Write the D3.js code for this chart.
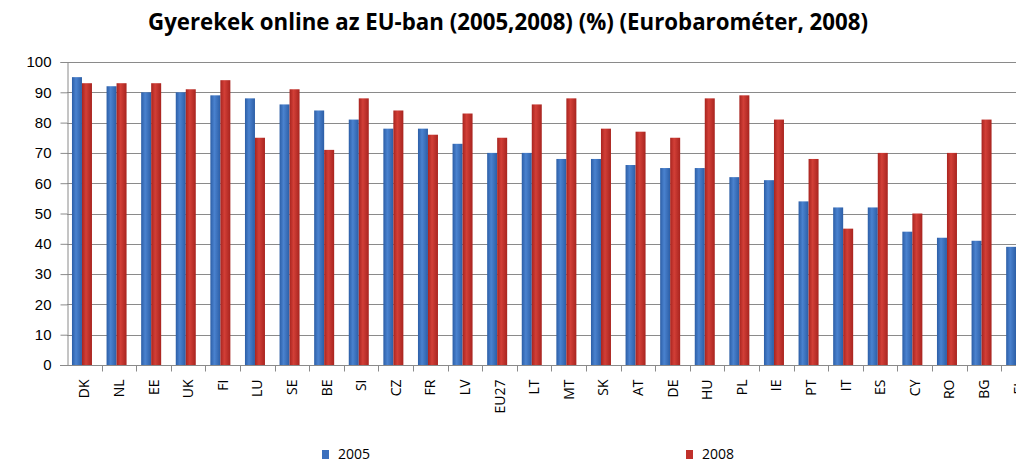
<!DOCTYPE html>
<html>
<head>
<meta charset="utf-8">
<script src="https://cdn.jsdelivr.net/npm/d3@7"></script>
<style>
  body { margin: 0; background: #fff; overflow: hidden; }
  svg { display: block; font-family: "Open Sans", "Noto Sans", sans-serif; }
</style>
</head>
<body>
<div id="chart"></div>
<script>
// CONSTANTS
const WIDTH = 1016;
const HEIGHT = 463;

// DATA
const countries = ["DK", "NL", "EE", "UK", "FI", "LU", "SE", "BE", "SI", "CZ", "FR", "LV", "EU27", "LT",
  "MT", "SK", "AT", "DE", "HU", "PL", "IE", "PT", "IT", "ES", "CY", "RO", "BG", "EL"];
const values2005 = [95, 92, 90, 90, 89, 88, 86, 84, 81, 78, 78, 73, 70, 70,
  68, 68, 66, 65, 65, 62, 61, 54, 52, 52, 44, 42, 41, 39];
const values2008 = [93, 93, 93, 91, 94, 75, 91, 71, 88, 84, 76, 83, 75, 86,
  88, 78, 77, 75, 88, 89, 81, 68, 45, 70, 50, 70, 81, 50];
const seriesNames = ["2005", "2008"];
const yTicks = [0, 10, 20, 30, 40, 50, 60, 70, 80, 90, 100];
const title = "Gyerekek online az EU-ban (2005,2008) (%) (Eurobarométer, 2008)";

const rows = countries.map((c, i) => ({ country: c, values: [values2005[i], values2008[i]] }));

const margin = { left: 67, top: 62, bottom: 98 };
const step = 34.6;

const svg = d3.select("#chart")
  .append("svg")
  .attr("width", WIDTH)
  .attr("height", HEIGHT);

// gradients for the bars
const defs = svg.append("defs");
const makeGrad = (id, edge, mid) => {
  const g = defs.append("linearGradient").attr("id", id)
    .attr("x1", "0%").attr("x2", "100%").attr("y1", "0%").attr("y2", "0%");
  g.append("stop").attr("offset", "0%").attr("stop-color", edge);
  g.append("stop").attr("offset", "40%").attr("stop-color", mid);
  g.append("stop").attr("offset", "100%").attr("stop-color", edge);
};
makeGrad("g2005", "#2c5ea6", "#4a82cf");
makeGrad("g2008", "#a8241f", "#d23f37");
const fills = ["url(#g2005)", "url(#g2008)"];
const legendFills = ["#3b6fbd", "#c0302b"];

const x0 = d3.scaleBand()
  .domain(countries)
  .range([margin.left, margin.left + step * countries.length])
  .padding(0);

const x1 = d3.scaleBand()
  .domain(seriesNames)
  .range([0, x0.bandwidth()])
  .paddingInner(0)
  .paddingOuter(0.73)
  .align(0.34);

const y = d3.scaleLinear()
  .domain([0, 100])
  .range([HEIGHT - margin.bottom, margin.top]);

// TITLE
const titleText = svg.append("text")
  .attr("x", 508)
  .attr("y", 30)
  .attr("text-anchor", "middle")
  .attr("font-weight", "bold")
  .attr("font-size", 19)
  .attr("fill", "#000")
  .text(title);
const tw = titleText.node().getComputedTextLength();
titleText.attr("font-size", 19 * 720 / tw);

// GRIDLINES
svg.append("g")
  .selectAll("line")
  .data(yTicks.filter(d => d > 0))
  .enter()
  .append("line")
  .attr("x1", margin.left)
  .attr("x2", WIDTH + 40)
  .attr("y1", d => Math.round(y(d)) + 0.5)
  .attr("y2", d => Math.round(y(d)) + 0.5)
  .attr("stroke", "#8a8a8a")
  .attr("stroke-width", 1);

// Y AXIS
const yAxis = svg.append("g")
  .attr("transform", `translate(${margin.left + 0.5},0)`)
  .call(d3.axisLeft(y).tickValues(yTicks).tickSize(7).tickPadding(9));
yAxis.select(".domain").attr("stroke", "#8a8a8a");
yAxis.selectAll(".tick line").attr("stroke", "#8a8a8a");
yAxis.selectAll("text").attr("font-size", 15).attr("fill", "#000");

// BARS
svg.append("g")
  .selectAll("g")
  .data(rows)
  .enter()
  .append("g")
  .attr("transform", d => `translate(${x0(d.country)},0)`)
  .selectAll("rect")
  .data(d => d.values.map((v, i) => ({ key: seriesNames[i], value: v, i })))
  .enter()
  .append("rect")
  .attr("x", d => x1(d.key))
  .attr("width", x1.bandwidth())
  .attr("y", d => y(d.value))
  .attr("height", d => y(0) - y(d.value))
  .attr("fill", d => fills[d.i]);

// X AXIS
const xAxis = svg.append("g")
  .attr("transform", `translate(0,${y(0) + 0.5})`);
xAxis.append("line")
  .attr("x1", margin.left - 7)
  .attr("x2", WIDTH + 40)
  .attr("stroke", "#8a8a8a");
xAxis.selectAll(".sep")
  .data(countries)
  .enter()
  .append("line")
  .attr("class", "sep")
  .attr("x1", d => Math.round(x0(d) + step) + 0.5)
  .attr("x2", d => Math.round(x0(d) + step) + 0.5)
  .attr("y1", 0)
  .attr("y2", 6)
  .attr("stroke", "#8a8a8a");
xAxis.selectAll(".lbl")
  .data(countries)
  .enter()
  .append("text")
  .attr("class", "lbl")
  .attr("transform", d => `translate(${x0(d) + step / 2 + 5},14) rotate(-90)`)
  .attr("text-anchor", "end")
  .attr("font-size", 14)
  .attr("fill", "#000")
  .text(d => d);

// LEGEND
const legendX = [322, 686];
const legend = svg.append("g")
  .selectAll("g")
  .data(seriesNames)
  .enter()
  .append("g")
  .attr("transform", (d, i) => `translate(${legendX[i]},450)`);
legend.append("rect")
  .attr("width", 7)
  .attr("height", 9)
  .attr("fill", (d, i) => legendFills[i]);
legend.append("text")
  .attr("x", 16)
  .attr("y", 9)
  .attr("font-size", 14)
  .attr("fill", "#000")
  .text(d => d);
</script>
</body>
</html>
